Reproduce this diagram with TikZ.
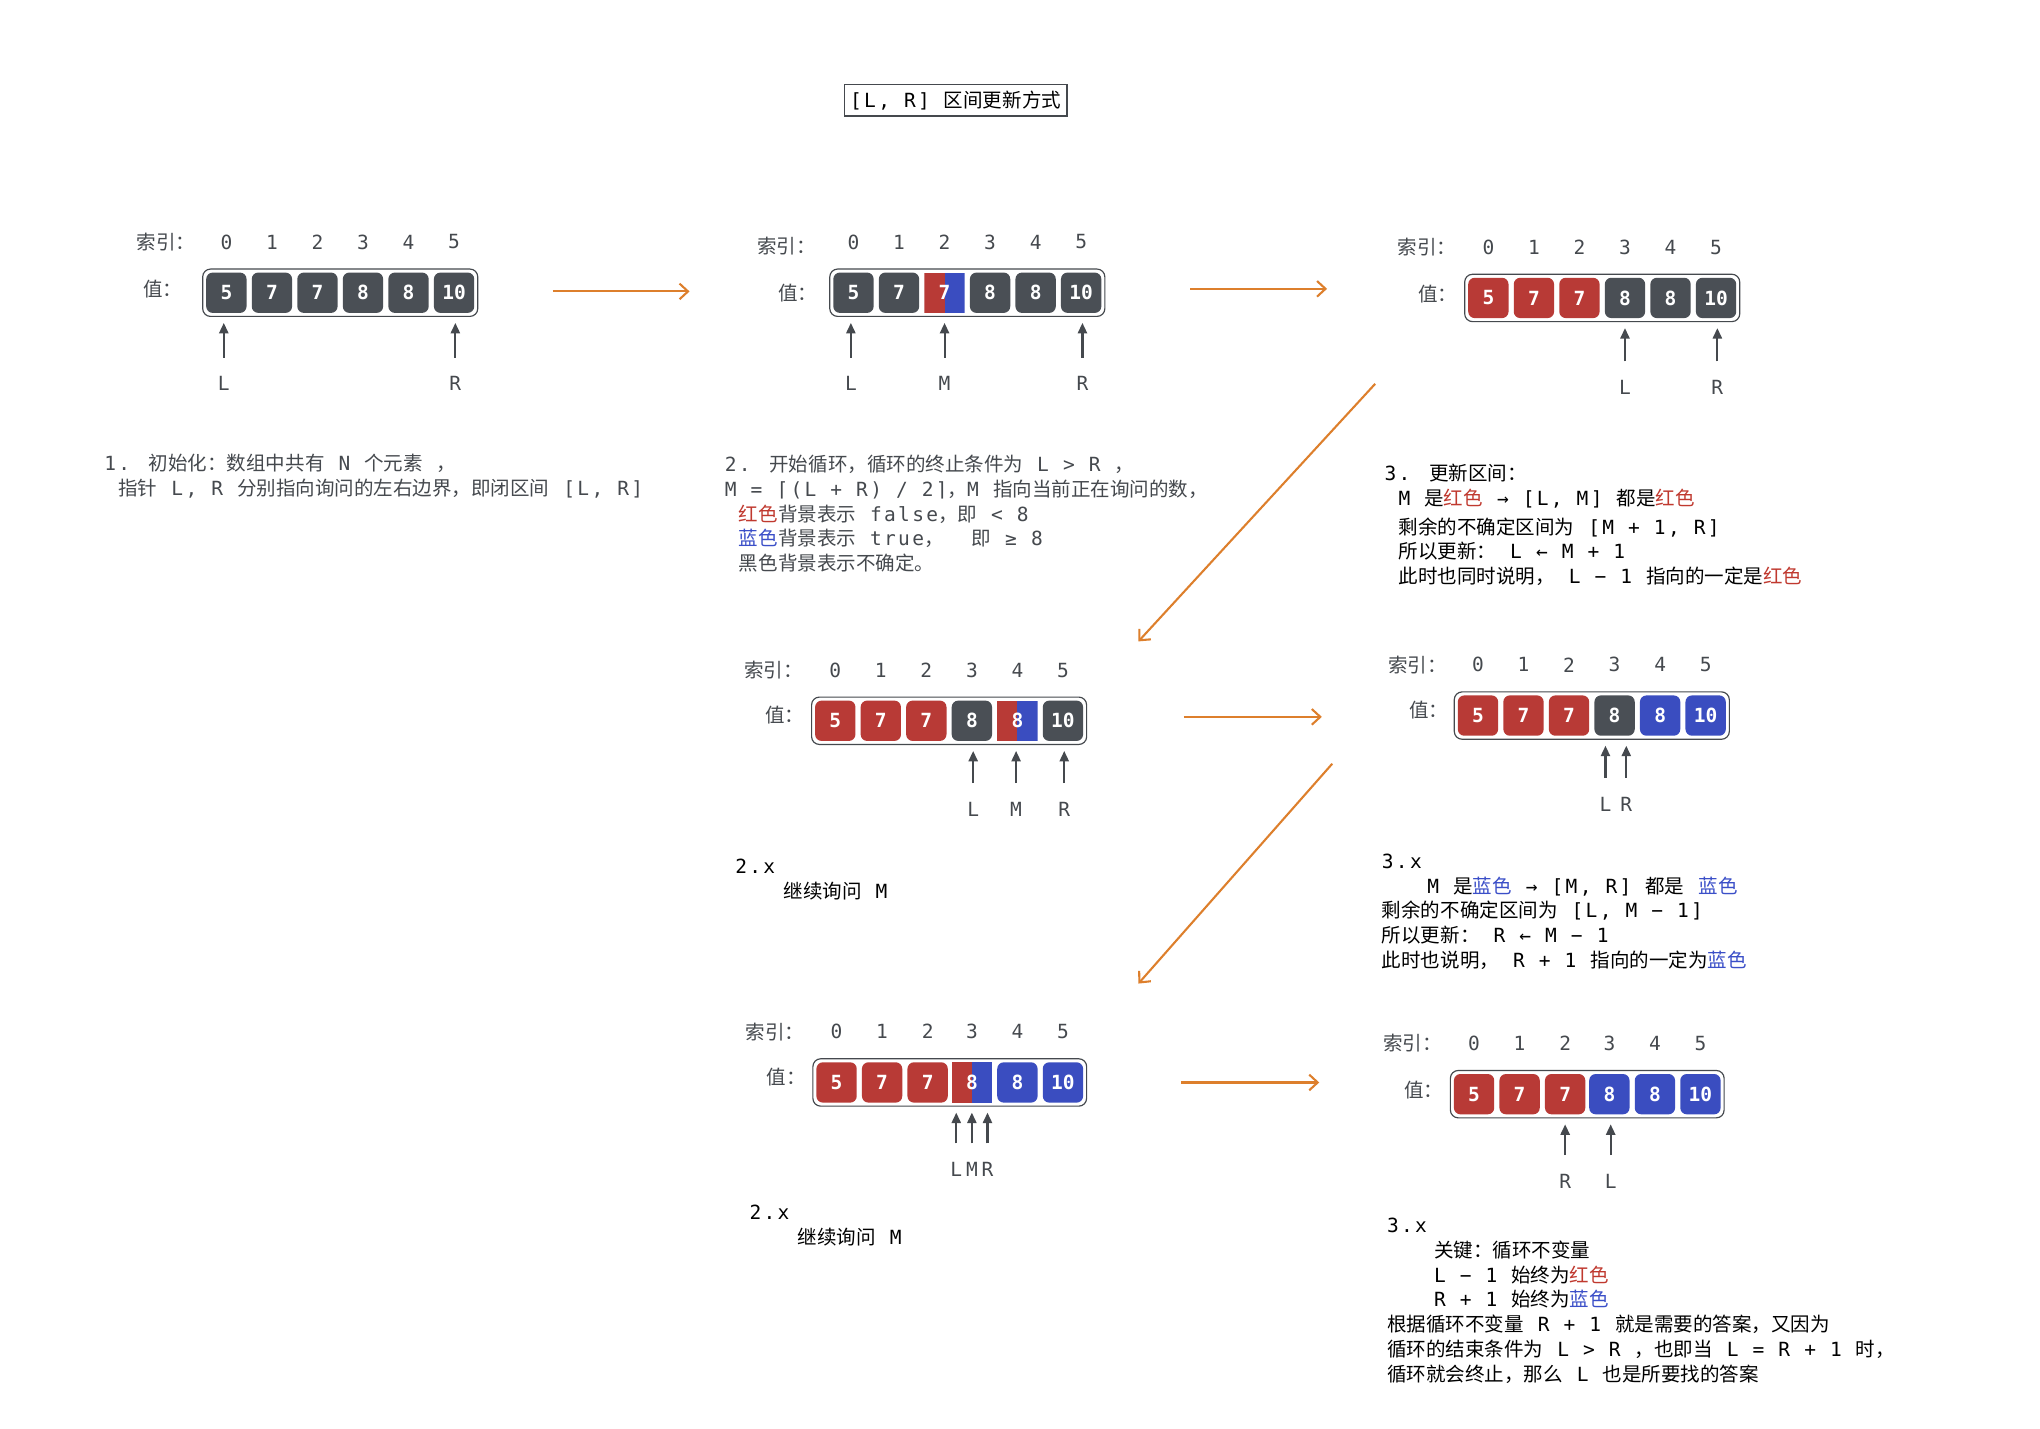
\documentclass[tikz,border=0pt]{standalone}
\usepackage{fontspec}
\setmainfont{DejaVu Sans Mono}[LetterSpace=11.8]
\newfontfamily\cjkfont{Noto Sans CJK SC}[Scale=1.0]
\newfontfamily\cellfont{DejaVu Sans Mono}
\usetikzlibrary{arrows.meta,fit}

\definecolor{cellgray}{HTML}{4A4F55}
\definecolor{cellred}{HTML}{B83A36}
\definecolor{cellblue}{HTML}{3A4DC0}
\definecolor{flowor}{HTML}{DD7F2C}
\definecolor{inkgray}{HTML}{45494E}
\definecolor{txtred}{HTML}{C0392F}
\definecolor{txtblue}{HTML}{3B4FC8}

\def\rtxt#1{{\color{txtred}#1}}
\def\btxt#1{{\color{txtblue}#1}}

% CJK characters switch to the CJK font
\newXeTeXintercharclass\cjkcls
\newcount\cjkcnt
\def\cjkrange#1#2{\cjkcnt=#1\relax\loop\XeTeXcharclass\cjkcnt=\cjkcls\relax\ifnum\cjkcnt<#2\advance\cjkcnt by 1\relax\repeat}
\cjkrange{"3000}{"303F}
\cjkrange{"4E00}{"9FFF}
\cjkrange{"FF00}{"FFEF}
\XeTeXinterchartoks 0 \cjkcls = {\begingroup\cjkfont}
\XeTeXinterchartoks 4095 \cjkcls = {\begingroup\cjkfont}
\XeTeXinterchartoks \cjkcls 0 = {\endgroup}
\XeTeXinterchartoks \cjkcls 4095 = {\endgroup}

\tikzset{
  cell/.style={rectangle, rounded corners=5pt, minimum width=31pt, minimum height=31pt, inner sep=0pt, text=white, font=\cellfont\bfseries\fontsize{15}{15}\selectfont},
  darkcell/.style={cell, fill=cellgray},
  redcell/.style={cell, fill=cellred},
  bluecell/.style={cell, fill=cellblue},
  halfcell/.style={cell, rounded corners=0pt, path picture={
      \fill[cellred] (path picture bounding box.north west) rectangle (path picture bounding box.south);
      \fill[cellblue] (path picture bounding box.north) rectangle (path picture bounding box.south east);}},
  rowbox/.style={draw=inkgray, line width=0.9pt, rounded corners=6pt, inner sep=2.5pt},
  idx/.style={inner sep=0pt, text=inkgray, font=\fontsize{15}{19}\selectfont},
  lab/.style={idx, anchor=west},
  ptr/.style={draw=inkgray, line width=1.6pt, -{Triangle[length=8pt,width=7pt]}, shorten <=14.5pt, shorten >=7.5pt},
  flow/.style={draw=flowor, line width=1.6pt, -{Straight Barb[length=6.5pt,width=12pt]}},
  txt/.style={anchor=north west, inner sep=0pt, align=left, font=\fontsize{15}{19}\selectfont}
}

\begin{document}
\XeTeXinterchartokenstate=1
\begin{tikzpicture}[x=1pt,y=-1pt]
			%%%%% START %%%%%
			\fill[white] (0,0) rectangle (1568,1097.6);
			\useasboundingbox (0,0) rectangle (1568,1097.6);
			
			\node[draw=inkgray, line width=1.3pt, minimum width=171pt, minimum height=24pt, inner sep=0pt, font=\fontsize{15}{19}\selectfont] (title) at (734.5,77) {[L, R] 区间更新方式};
			
			%%%%% 1 %%%%%
			\node[lab] (p1key) at (105,186) {索引：};
			\node[lab] (p1val) at (110,222) {值：};
			\node[idx] (p1i0) at (174,186) {0};
			\node[idx] (p1i1) at (209,186) {1};
			\node[idx] (p1i2) at (244,186) {2};
			\node[idx] (p1i3) at (279,186) {3};
			\node[idx] (p1i4) at (314,186) {4};
			\node[idx] (p1i5) at (349,186) {5};
			\node[darkcell] (p1c0) at (174,225) {5};
			\node[darkcell] (p1c1) at (209,225) {7};
			\node[darkcell] (p1c2) at (244,225) {7};
			\node[darkcell] (p1c3) at (279,225) {8};
			\node[darkcell] (p1c4) at (314,225) {8};
			\node[darkcell] (p1c5) at (349,225) {10};
			\node[rowbox, fit=(p1c0)(p1c5)] (p1row) {};
			\node[idx] (p1L) at (172,295) {L};
			\node[idx] (p1R) at (350,295) {R};
			\draw[ptr] (p1L.north) -- (p1L.north |- p1c0.south);
			\draw[ptr] (p1R.north) -- (p1R.north |- p1c5.south);
			\node[txt, text=inkgray] (t1) at (80,348) {\strut 1. 初始化：数组中共有 N 个元素 ，\\~指针 L, R 分别指向询问的左右边界，即闭区间 [L, R]};
			
			%%%%% 2 %%%%%
			\node[lab] (p2key) at (582,189) {索引：};
			\node[lab] (p2val) at (598,225) {值：};
			\node[idx] (p2i0) at (656,186) {0};
			\node[idx] (p2i1) at (691,186) {1};
			\node[idx] (p2i2) at (726,186) {2};
			\node[idx] (p2i3) at (761,186) {3};
			\node[idx] (p2i4) at (796,186) {4};
			\node[idx] (p2i5) at (831,186) {5};
			\node[darkcell] (p2c0) at (656,225) {5};
			\node[darkcell] (p2c1) at (691,225) {7};
			\node[halfcell] (p2c2) at (726,225) {7};
			\node[darkcell] (p2c3) at (761,225) {8};
			\node[darkcell] (p2c4) at (796,225) {8};
			\node[darkcell] (p2c5) at (831,225) {10};
			\node[rowbox, fit=(p2c0)(p2c5)] (p2row) {};
			\node[idx] (p2L) at (654,295) {L};
			\node[idx] (p2M) at (726,295) {M};
			\node[idx] (p2R) at (832,295) {R};
			\draw[ptr] (p2L.north) -- (p2L.north |- p2c0.south);
			\draw[ptr] (p2M.north) -- (p2M.north |- p2c2.south);
			\draw[ptr] (p2R.north) -- (p2R.north |- p2c5.south);
			\node[txt, text=inkgray] (t2) at (557,349) {\strut 2. 开始循环，循环的终止条件为 L > R ，\\M = ⌈(L + R) / 2⌉，M 指向当前正在询问的数，\\~\rtxt{红色}背景表示 false，即 < 8\\~\btxt{蓝色}背景表示 true，~ 即 ≥ 8\\~黑色背景表示不确定。};
			
			%%%%% 3 %%%%%
			\node[lab] (p3key) at (1074,190) {索引：};
			\node[lab] (p3val) at (1090,226) {值：};
			\node[idx] (p3i0) at (1144,190) {0};
			\node[idx] (p3i1) at (1179,190) {1};
			\node[idx] (p3i2) at (1214,190) {2};
			\node[idx] (p3i3) at (1249,190) {3};
			\node[idx] (p3i4) at (1284,190) {4};
			\node[idx] (p3i5) at (1319,190) {5};
			\node[redcell] (p3c0) at (1144,229) {5};
			\node[redcell] (p3c1) at (1179,229) {7};
			\node[redcell] (p3c2) at (1214,229) {7};
			\node[darkcell] (p3c3) at (1249,229) {8};
			\node[darkcell] (p3c4) at (1284,229) {8};
			\node[darkcell] (p3c5) at (1319,229) {10};
			\node[rowbox, fit=(p3c0)(p3c5)] (p3row) {};
			\node[idx] (p3L) at (1249,298) {L};
			\node[idx] (p3R) at (1320,298) {R};
			\draw[ptr] (p3L.north) -- (p3L.north |- p3c3.south);
			\draw[ptr] (p3R.north) -- (p3R.north |- p3c5.south);
			\node[txt] (t3) at (1064,356) {\strut 3. 更新区间：\\~M 是\rtxt{红色} → [L, M] 都是\rtxt{红色}\\[3pt]~剩余的不确定区间为 [M + 1, R]\\~所以更新： L ← M + 1\\~此时也同时说明， L − 1 指向的一定是\rtxt{红色}};
			
			%%%%% 4 %%%%%
			\node[lab] (p4key) at (572,515) {索引：};
			\node[lab] (p4val) at (588,550) {值：};
			\node[idx] (p4i0) at (642,515) {0};
			\node[idx] (p4i1) at (677,515) {1};
			\node[idx] (p4i2) at (712,515) {2};
			\node[idx] (p4i3) at (747,515) {3};
			\node[idx] (p4i4) at (782,515) {4};
			\node[idx] (p4i5) at (817,515) {5};
			\node[redcell] (p4c0) at (642,554) {5};
			\node[redcell] (p4c1) at (677,554) {7};
			\node[redcell] (p4c2) at (712,554) {7};
			\node[darkcell] (p4c3) at (747,554) {8};
			\node[halfcell] (p4c4) at (782,554) {8};
			\node[darkcell] (p4c5) at (817,554) {10};
			\node[rowbox, fit=(p4c0)(p4c5)] (p4row) {};
			\node[idx] (p4L) at (748,622) {L};
			\node[idx] (p4M) at (781,622) {M};
			\node[idx] (p4R) at (818,622) {R};
			\draw[ptr] (p4L.north) -- (p4L.north |- p4c3.south);
			\draw[ptr] (p4M.north) -- (p4M.north |- p4c4.south);
			\draw[ptr] (p4R.north) -- (p4R.north |- p4c5.south);
			\node[txt] (t4) at (565,658) {\strut 2.x\\\hspace*{37pt}继续询问 M};
			
			%%%%% 5 %%%%%
			\node[lab] (p5key) at (1067,511) {索引：};
			\node[lab] (p5val) at (1083,546) {值：};
			\node[idx] (p5i0) at (1136,511) {0};
			\node[idx] (p5i1) at (1171,511) {1};
			\node[idx] (p5i2) at (1206,511) {2};
			\node[idx] (p5i3) at (1241,511) {3};
			\node[idx] (p5i4) at (1276,511) {4};
			\node[idx] (p5i5) at (1311,511) {5};
			\node[redcell] (p5c0) at (1136,550) {5};
			\node[redcell] (p5c1) at (1171,550) {7};
			\node[redcell] (p5c2) at (1206,550) {7};
			\node[darkcell] (p5c3) at (1241,550) {8};
			\node[bluecell] (p5c4) at (1276,550) {8};
			\node[bluecell] (p5c5) at (1311,550) {10};
			\node[rowbox, fit=(p5c0)(p5c5)] (p5row) {};
			\node[idx] (p5L) at (1234,618) {L};
			\node[idx] (p5R) at (1250,618) {R};
			\draw[ptr] (p5L.north) -- (p5L.north |- p5c3.south);
			\draw[ptr] (p5R.north) -- (p5R.north |- p5c3.south);
			\node[txt] (t5) at (1062,654) {\strut 3.x\\\hspace*{35pt}M 是\btxt{蓝色} → [M, R] 都是 \btxt{蓝色}\\剩余的不确定区间为 [L, M − 1]\\所以更新： R ← M − 1\\此时也说明， R + 1 指向的一定为\btxt{蓝色}};
			
			%%%%% 6 %%%%%
			\node[lab] (p6key) at (573,793) {索引：};
			\node[lab] (p6val) at (589,828) {值：};
			\node[idx] (p6i0) at (643,793) {0};
			\node[idx] (p6i1) at (678,793) {1};
			\node[idx] (p6i2) at (713,793) {2};
			\node[idx] (p6i3) at (747,793) {3};
			\node[idx] (p6i4) at (782,793) {4};
			\node[idx] (p6i5) at (817,793) {5};
			\node[redcell] (p6c0) at (643,832) {5};
			\node[redcell] (p6c1) at (678,832) {7};
			\node[redcell] (p6c2) at (713,832) {7};
			\node[halfcell] (p6c3) at (747,832) {8};
			\node[bluecell] (p6c4) at (782,832) {8};
			\node[bluecell] (p6c5) at (817,832) {10};
			\node[rowbox, fit=(p6c0)(p6c5)] (p6row) {};
			\node[idx] (p6L) at (735,899) {L};
			\node[idx] (p6M) at (747,899) {M};
			\node[idx] (p6R) at (759,899) {R};
			\draw[ptr] (p6L.north) -- (p6L.north |- p6c3.south);
			\draw[ptr] (p6M.north) -- (p6M.north |- p6c3.south);
			\draw[ptr] (p6R.north) -- (p6R.north |- p6c3.south);
			\node[txt] (t6) at (576,924) {\strut 2.x\\\hspace*{37pt}继续询问 M};
			
			%%%%% 7 %%%%%
			\node[lab] (p7key) at (1063,802) {索引：};
			\node[lab] (p7val) at (1079,838) {值：};
			\node[idx] (p7i0) at (1133,802) {0};
			\node[idx] (p7i1) at (1168,802) {1};
			\node[idx] (p7i2) at (1203,802) {2};
			\node[idx] (p7i3) at (1237,802) {3};
			\node[idx] (p7i4) at (1272,802) {4};
			\node[idx] (p7i5) at (1307,802) {5};
			\node[redcell] (p7c0) at (1133,841) {5};
			\node[redcell] (p7c1) at (1168,841) {7};
			\node[redcell] (p7c2) at (1203,841) {7};
			\node[bluecell] (p7c3) at (1237,841) {8};
			\node[bluecell] (p7c4) at (1272,841) {8};
			\node[bluecell] (p7c5) at (1307,841) {10};
			\node[rowbox, fit=(p7c0)(p7c5)] (p7row) {};
			\node[idx] (p7R) at (1203,908) {R};
			\node[idx] (p7L) at (1238,908) {L};
			\draw[ptr] (p7R.north) -- (p7R.north |- p7c2.south);
			\draw[ptr] (p7L.north) -- (p7L.north |- p7c3.south);
			\node[txt] (t7) at (1066,934) {\strut 3.x\\\hspace*{36pt}关键：循环不变量\\\hspace*{36pt}L − 1 始终为\rtxt{红色}\\\hspace*{36pt}R + 1 始终为\btxt{蓝色}\\根据循环不变量 R + 1 就是需要的答案，又因为\\循环的结束条件为 L > R ，也即当 L = R + 1 时，\\循环就会终止，那么 L 也是所要找的答案};
			
			%%%%% FLOW %%%%%
			\coordinate (f1a) at (425,224);
			\coordinate (f1b) at (530,224);
			\coordinate (f2a) at (915,222);
			\coordinate (f2b) at (1020,222);
			\coordinate (f3a) at (1057,295);
			\coordinate (f3b) at (875,493);
			\coordinate (f4a) at (910,551);
			\coordinate (f4b) at (1016,551);
			\coordinate (f5a) at (1024,587);
			\coordinate (f5b) at (875,756);
			\coordinate (f6a) at (908,832);
			\coordinate (f6b) at (1014,832);
			\draw[flow] (f1a) -- (f1b);
			\draw[flow] (f2a) -- (f2b);
			\draw[flow] (f3a) -- (f3b);
			\draw[flow] (f4a) -- (f4b);
			\draw[flow] (f5a) -- (f5b);
			\draw[flow] (f6a) -- (f6b);
			
			%%%%% END %%%%%
\end{tikzpicture}
\end{document}
